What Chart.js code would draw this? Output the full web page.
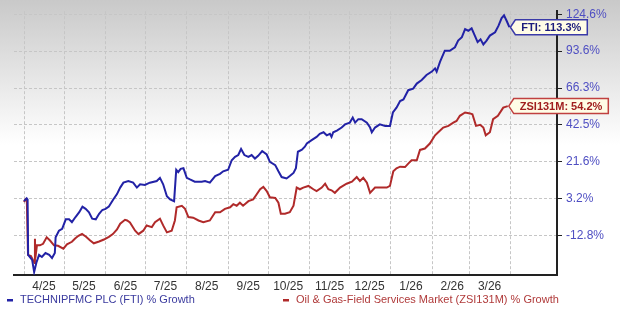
<!DOCTYPE html>
<html>
<head>
<meta charset="utf-8">
<script src="https://cdn.jsdelivr.net/npm/chart.js@4.4.1/dist/chart.umd.min.js"></script>
<style>
  html, body { margin: 0; padding: 0; }
  body { width: 620px; height: 315px; background-color: #fff;
         background-image: linear-gradient(to bottom, #c9c9c9 0px, #ffffff 145px);
         background-repeat: no-repeat; background-size: 620px 145px; overflow: hidden; }
  #wrap { position: relative; width: 620px; height: 315px; }
</style>
</head>
<body>
<div id="wrap"><canvas id="c" width="620" height="315"></canvas></div>
<script>
// ---- data (x = days since 2025-04-01, y = % growth) ----
const ftiDays = [0,2.0,2.7,3.1,6.1,7.6,9.4,11.3,13.4,16.1,18.9,21.0,23.1,23.7,26.2,28.6,31.3,33.8,35.9,38.6,41.4,43.8,46.2,48.7,51.1,53.8,56.3,58.7,61.1,63.6,66.9,69.7,72.1,74.5,78.2,81.8,84.6,87.0,90.6,94.3,99.5,101.9,104.3,107.1,109.5,112.5,114.1,115.6,117.4,119.5,122.0,124.4,128.0,133.2,135.7,139.3,143.3,146.9,149.3,153.0,155.7,158.2,160.6,162.7,165.2,168.2,170.6,173.1,175.5,178.5,181.9,184.3,188.3,190.7,193.1,196.8,199.2,202.0,203.8,205.3,208.3,210.5,212.0,215.6,219.3,221.7,224.5,226.9,229.3,230.5,231.8,234.5,238.1,240.6,244.2,246.4,248.2,250.6,253.1,257.0,259.4,260.7,263.1,266.7,270.7,274.3,276.5,279.2,281.9,284.4,288.0,291.7,294.4,298.1,301.7,305.7,308.1,309.3,311.8,315.4,319.1,323.0,325.4,328.2,330.6,333.0,335.5,337.9,340.0,342.2,344.3,346.7,349.2,353.1,355.6,358.0,359.8,361.9,363.8];
const ftiPct = [2.0,3.3,2.7,-20.5,-22.4,-26.8,-23.2,-20.5,-21.3,-19.8,-20.5,-21.7,-19.8,-13.6,-10.9,-10.1,-6.1,-6.1,-7.3,-5.1,-3.0,-0.5,-1.5,-3.0,-5.8,-6.1,-3.7,-2.0,-1.5,-0.5,2.8,5.3,8.4,10.8,11.6,10.8,8.4,10.0,9.7,10.8,11.6,13.2,10.0,4.3,2.8,2.0,17.3,16.1,17.8,18.1,13.2,12.4,11.3,11.3,11.6,10.8,14.1,15.2,16.5,17.3,22.3,24.1,25.1,28.4,25.1,24.1,25.1,23.2,24.7,27.3,25.4,21.4,19.7,16.5,13.6,12.9,14.1,15.7,18.1,26.9,28.0,29.7,31.5,33.4,35.3,37.1,38.0,36.2,37.1,35.3,38.0,39.0,40.8,42.7,43.8,46.9,43.8,45.9,45.9,43.8,40.8,38.0,40.8,42.7,41.8,41.8,50.1,53.2,57.5,58.5,64.8,65.9,69.4,71.9,75.5,78.0,80.4,78.0,85.3,93.9,93.9,96.7,102.1,104.9,111.7,110.3,112.3,106.2,100.8,103.1,98.9,102.1,106.2,109.0,114.4,121.3,123.8,118.5,113.3];
const zsiDays = [0,1.2,2.1,3.0,5.2,6.7,7.9,8.2,8.5,9.7,11.9,14.3,17.0,19.5,22.5,25.5,29.5,32.2,35.9,38.3,40.8,43.5,46.5,49.6,52.3,56.3,59.9,63.6,66.6,69.7,72.1,75.7,77.3,79.4,83.3,85.8,89.4,91.9,95.8,98.2,101.9,104.3,107.1,110.7,113.1,114.4,118.3,120.7,123.2,126.8,130.8,134.4,139.3,143.3,146.9,150.6,154.5,156.9,159.4,161.8,164.2,168.2,171.8,174.3,177.0,179.4,181.9,184.3,188.3,190.7,192.5,195.6,199.2,202.0,204.4,206.8,209.3,213.2,216.9,219.3,223.2,225.7,228.1,230.5,233.0,236.9,241.8,245.8,249.4,251.8,254.3,257.0,259.4,263.1,266.7,271.9,274.3,276.8,279.2,281.9,285.6,288.0,290.5,294.4,296.8,300.5,304.2,308.1,310.5,314.2,318.1,321.8,324.2,326.7,330.6,334.3,336.1,338.8,341.9,344.3,346.1,349.2,351.6,355.2,359.2,362.6];
const zsiPct = [1.6,2.9,2.5,-20.5,-20.9,-22.4,-23.5,-14.2,-21.7,-16.8,-16.8,-16.2,-13.6,-14.9,-16.8,-17.0,-18.1,-16.4,-15.4,-14.1,-13.0,-12.2,-13.4,-14.9,-16.0,-15.3,-14.5,-13.4,-12.3,-10.4,-8.0,-6.3,-6.6,-7.4,-10.9,-12.3,-10.9,-8.7,-9.4,-7.3,-5.8,-8.7,-11.6,-10.9,-6.6,-0.8,-0.1,-1.5,-5.1,-5.4,-6.6,-7.3,-6.6,-3.0,-3.0,-1.5,-0.8,0.6,-0.1,1.3,-0.1,2.0,2.8,5.1,7.6,8.7,6.7,3.8,3.5,1.3,-3.7,-3.7,-3.0,-0.1,8.4,7.6,8.4,9.2,7.6,6.7,8.4,10.3,7.6,7.1,5.9,8.4,10.3,11.3,13.6,11.6,13.2,10.8,5.9,8.4,8.4,8.4,9.2,16.5,18.1,18.9,18.7,20.5,22.3,22.3,27.9,28.7,31.5,36.2,38.0,40.8,41.8,43.8,44.8,48.0,50.1,49.5,49.0,41.8,42.5,40.8,36.2,38.0,45.9,48.0,53.2,54.2];
const monthStartDays = [0,30,61,91,122,153,183,214,244,275,306,334,365];
const monthLabels = ['4/25','5/25','6/25','7/25','8/25','9/25','10/25','11/25','12/25','1/26','2/26','3/26',''];
const yTickPct = [-12.8, 3.2, 21.6, 42.5, 66.3, 93.6, 124.6];
const ftiName = 'TECHNIPFMC PLC (FTI) % Growth';
const zsiName = 'Oil & Gas-Field Services Market (ZSI131M) % Growth';
const ftiTag = 'FTI: 113.3%';
const zsiTag = 'ZSI131M: 54.2%';

// ---- styling ----
const OFFSET = 126; // shifted log scale used by the source chart
const BLUE = '#2222a6', RED = '#b02a2a';
const FONT = '"Liberation Sans", Arial, sans-serif';
Chart.defaults.font.family = FONT;

const toPts = (xs, ys) => xs.map((x, i) => ({ x: x, y: ys[i] + OFFSET }));

const decor = {
  id: 'decor',
  afterDraw(chart) {
    const ctx = chart.ctx;
    // value tags
    const tag = (dsIndex, text, border, color) => {
      const meta = chart.getDatasetMeta(dsIndex);
      const p = meta.data[meta.data.length - 1];
      ctx.save();
      ctx.font = 'bold 11px ' + FONT;
      const tw = ctx.measureText(text).width;
      const tip = p.x + 1, left = p.x + 6, right = left + tw + 12;
      const top = p.y - 7.5, bot = p.y + 7.5;
      ctx.beginPath();
      ctx.moveTo(tip, p.y); ctx.lineTo(left, top); ctx.lineTo(right, top);
      ctx.lineTo(right, bot); ctx.lineTo(left, bot); ctx.closePath();
      ctx.fillStyle = '#fffce6'; ctx.fill();
      ctx.lineWidth = 1.5; ctx.strokeStyle = border; ctx.stroke();
      ctx.fillStyle = color; ctx.textBaseline = 'middle'; ctx.textAlign = 'left';
      ctx.fillText(text, left + 6, p.y + 0.5);
      ctx.restore();
    };
    tag(0, ftiTag, '#3a3aa8', '#1c1c7c');
    tag(1, zsiTag, '#c04040', '#a01e1e');
    // legend
    ctx.save();
    ctx.font = '11px ' + FONT;
    ctx.textBaseline = 'middle';
    ctx.fillStyle = BLUE; ctx.fillRect(7, 299, 6, 2.5);
    ctx.fillStyle = '#3a3a9e'; ctx.fillText(ftiName, 20, 300);
    ctx.fillStyle = RED; ctx.fillRect(283, 299, 6, 2.5);
    ctx.fillStyle = '#b03a3a'; ctx.fillText(zsiName, 296, 300);
    ctx.restore();
  }
};

new Chart(document.getElementById('c'), {
  type: 'line',
  data: {
    datasets: [
      { label: ftiName, data: toPts(ftiDays, ftiPct), borderColor: BLUE, borderWidth: 2, pointRadius: 0, tension: 0, fill: false },
      { label: zsiName, data: toPts(zsiDays, zsiPct), borderColor: RED, borderWidth: 2, pointRadius: 0, tension: 0, fill: false }
    ]
  },
  options: {
    responsive: false,
    animation: false,
    events: [],
    layout: { padding: { left: 14, top: 6, right: 0, bottom: 0 } },
    plugins: { legend: { display: false }, tooltip: { enabled: false } },
    scales: {
      x: {
        type: 'linear', position: 'bottom',
        min: -7.5, max: 399.5,
        afterBuildTicks: (s) => { s.ticks = monthStartDays.map(v => ({ value: v })); },
        afterFit: (s) => { s.height = 40; },
        grid: { color: '#c6c6c6', lineWidth: 1, drawTicks: false },
        border: { display: true, color: '#222', width: 2, dash: [3, 2] },
        ticks: {
          autoSkip: false, maxRotation: 0, padding: 4, labelOffset: 20,
          color: '#333', font: { size: 12 },
          callback: (v, i) => monthLabels[i]
        }
      },
      y: {
        type: 'logarithmic', position: 'right',
        min: -27.86 + OFFSET, max: 127.5 + OFFSET,
        afterBuildTicks: (s) => { s.ticks = yTickPct.map(v => ({ value: v + OFFSET })); },
        afterFit: (s) => { s.width = 63; },
        grid: { color: '#c6c6c6', lineWidth: 1, drawTicks: true, tickLength: 5, tickColor: '#222', tickBorderDash: [] },
        border: { display: true, color: '#222', width: 2, dash: [3, 2] },
        ticks: {
          padding: 4, color: '#4e4ec2', font: { size: 12 },
          callback: (v) => (v - OFFSET).toFixed(1) + '%'
        }
      }
    }
  },
  plugins: [decor]
});
</script>
</body>
</html>
